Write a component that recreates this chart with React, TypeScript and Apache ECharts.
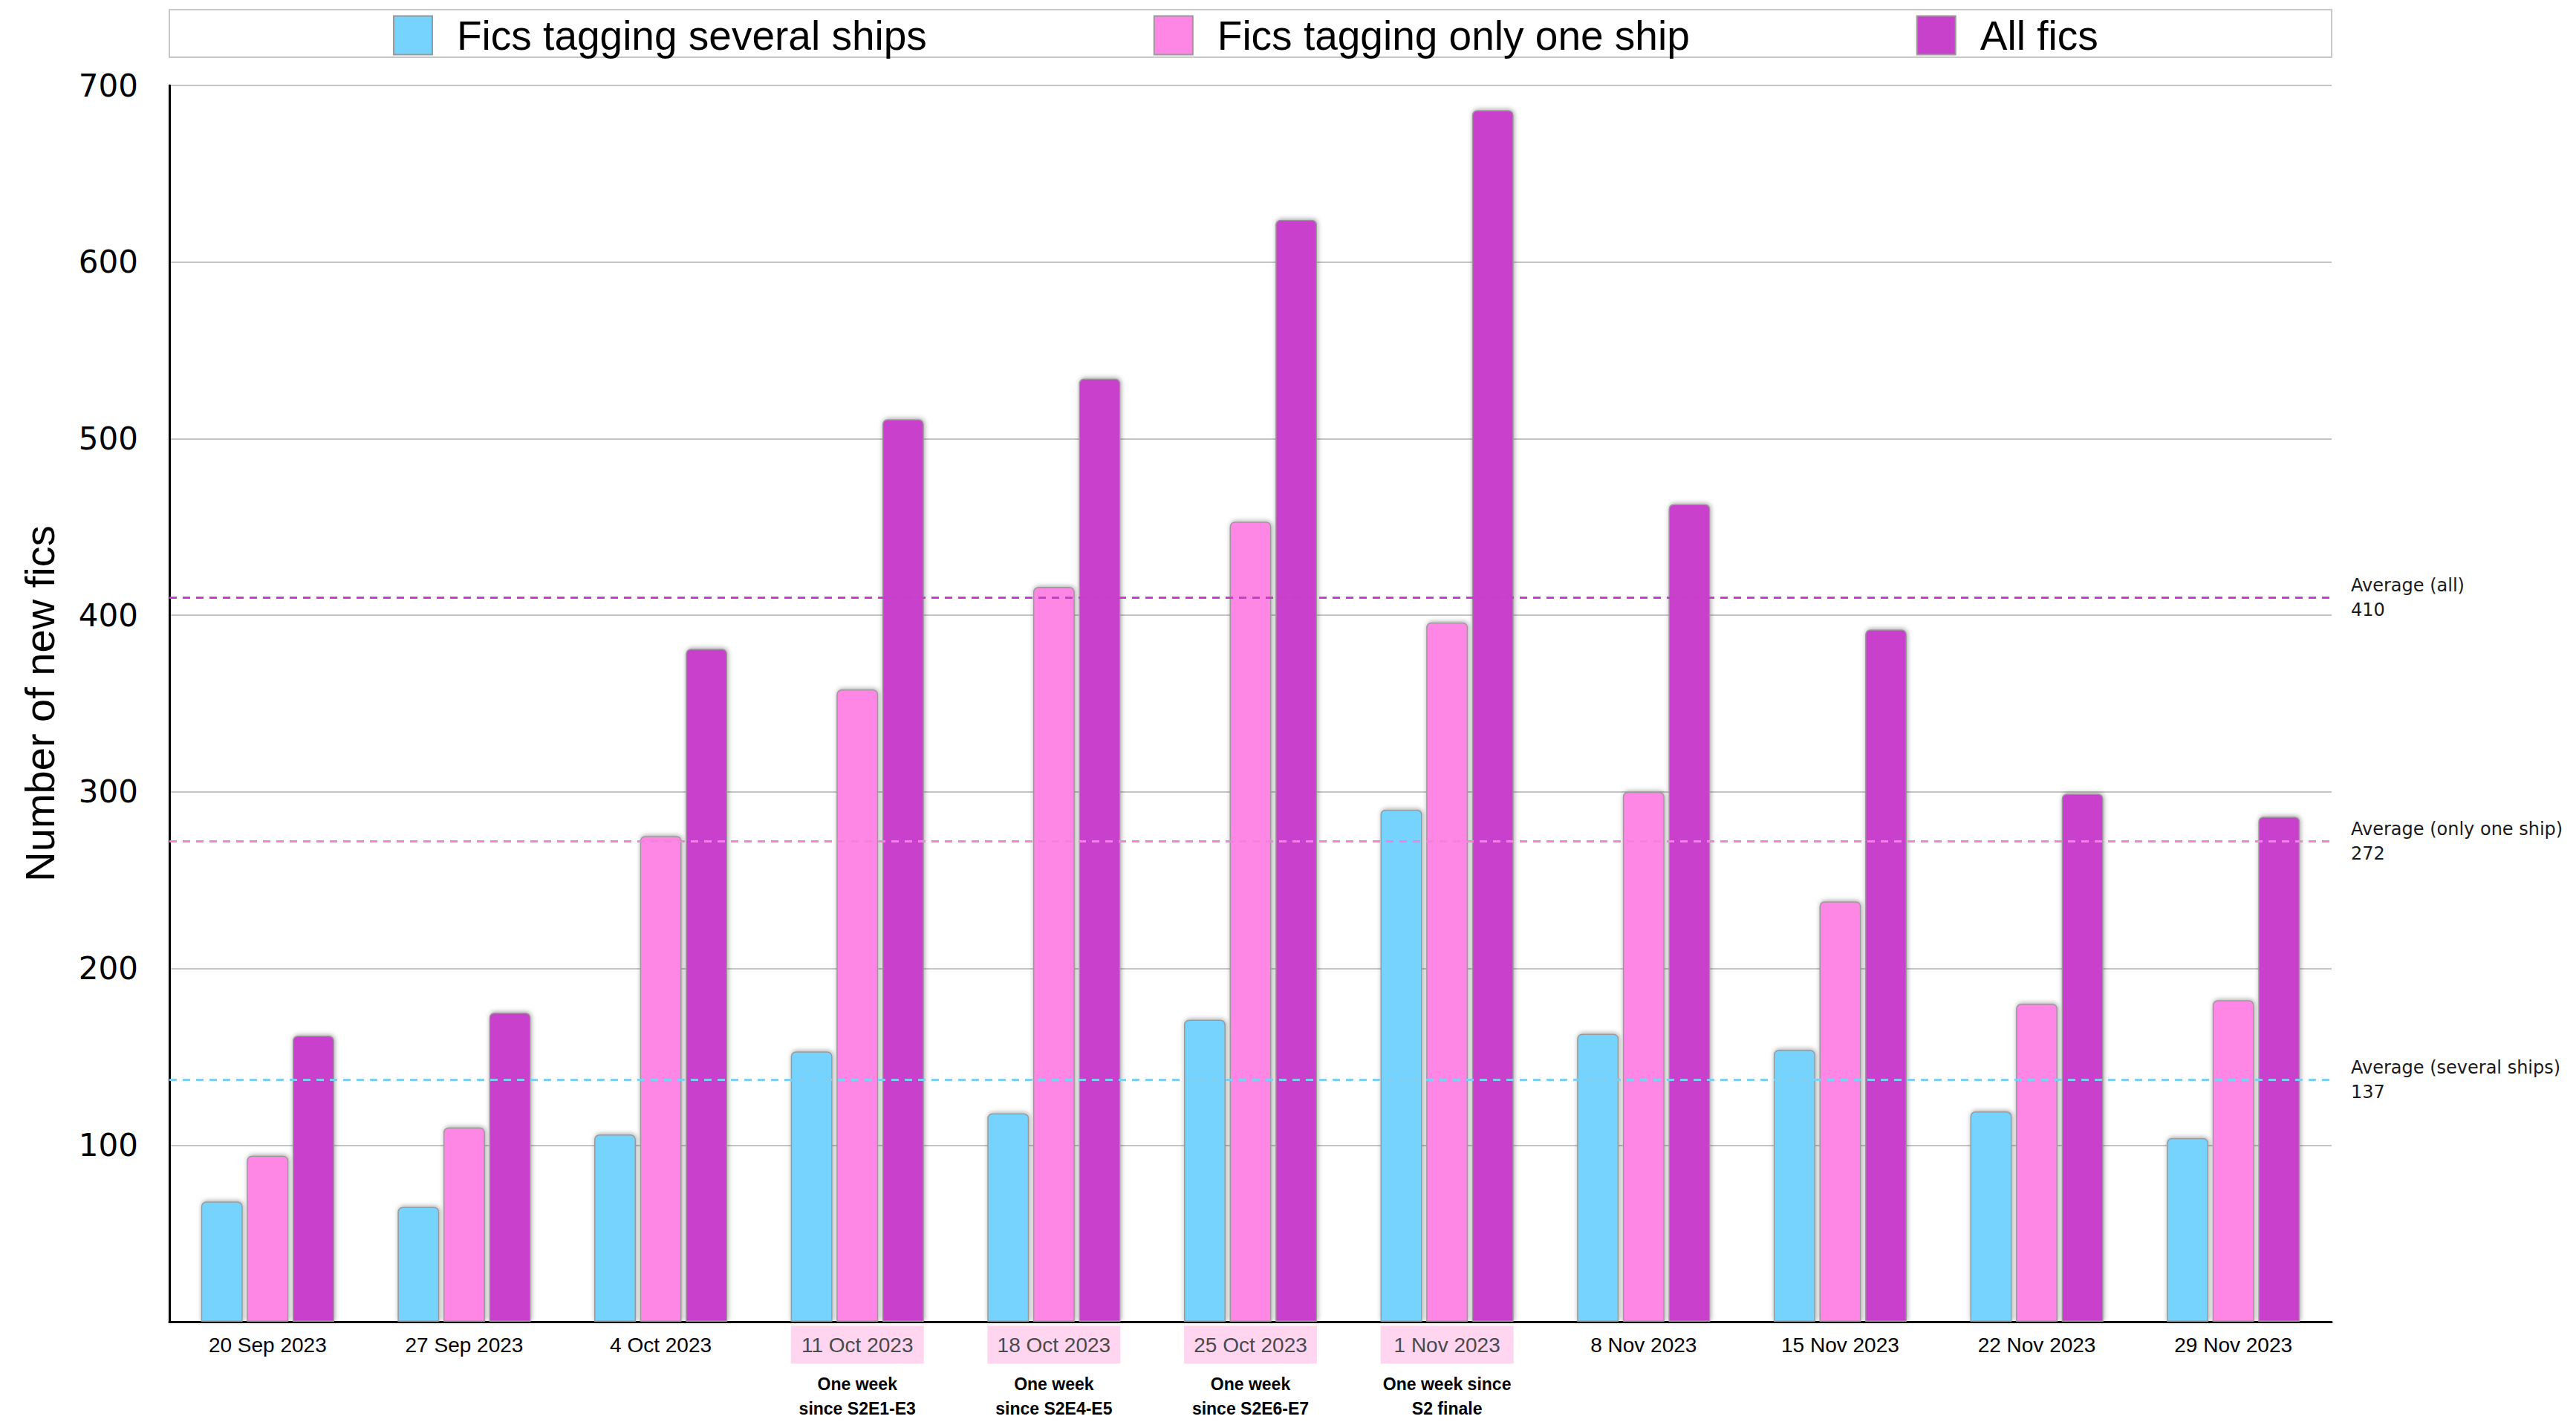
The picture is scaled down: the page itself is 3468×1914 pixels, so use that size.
import React, { useEffect, useRef } from "react";
import * as echarts from "echarts";

const categories = [
  "20 Sep 2023",
  "27 Sep 2023",
  "4 Oct 2023",
  "11 Oct 2023",
  "18 Oct 2023",
  "25 Oct 2023",
  "1 Nov 2023",
  "8 Nov 2023",
  "15 Nov 2023",
  "22 Nov 2023",
  "29 Nov 2023",
];

const notes = [
  "",
  "",
  "",
  "One week\nsince S2E1-E3",
  "One week\nsince S2E4-E5",
  "One week\nsince S2E6-E7",
  "One week since\nS2 finale",
  "",
  "",
  "",
  "",
];

const severalShips = [68, 65, 106, 153, 118, 171, 290, 163, 154, 119, 104];
const oneShip = [94, 110, 275, 358, 416, 453, 396, 300, 238, 180, 182];
const allFics = [162, 175, 381, 511, 534, 624, 686, 463, 392, 299, 286];

const seriesNames = ["Fics tagging several ships", "Fics tagging only one ship", "All fics"];
const seriesColors = ["#75d3fd", "#fe86e5", "#c841cb"];
const avgLineColors = ["#7fcff3", "#f084dc", "#c63fc9"];
const averageValues = [137, 272, 410];
const averageLabels = ["Average (several ships)", "Average (only one ship)", "Average (all)"];

const yTicks = { min: 0, max: 700, interval: 100 };

export default function App() {
  const ref = useRef<HTMLDivElement>(null);

  useEffect(() => {
    if (!ref.current) return;
    const chart = echarts.init(ref.current, null, { renderer: "svg" });

    const dataSets = [severalShips, oneShip, allFics];

    const series = dataSets.map((d, i) => ({
      name: seriesNames[i],
      type: "bar",
      data: d,
      barWidth: 56,
      barGap: "10%",
      itemStyle: {
        color: seriesColors[i],
        borderColor: "#9a9a9a",
        borderWidth: 1.5,
        borderRadius: [6, 6, 0, 0],
        shadowBlur: 6,
        shadowColor: "rgba(0,0,0,0.35)",
        shadowOffsetX: 1,
        shadowOffsetY: -1,
      },
      markLine: {
        silent: true,
        symbol: "none",
        z: 10,
        data: [{ yAxis: averageValues[i] }],
        lineStyle: {
          color: avgLineColors[i],
          type: [10, 8],
          width: 3,
        },
        label: {
          show: true,
          position: "end",
          distance: 26,
          formatter: `${averageLabels[i]}\n${averageValues[i]}`,
          fontFamily: "DejaVu Sans",
          fontSize: 24,
          lineHeight: 33,
          color: "#1a1a1a",
        },
      },
    }));

    const option = {
      animation: false,
      backgroundColor: "#ffffff",
      graphic: [
        {
          type: "rect",
          z: -1,
          shape: { x: 228, y: 13, width: 2911, height: 64 },
          style: { fill: "#ffffff", stroke: "#c8c8c8", lineWidth: 2 },
        },
      ],
      legend: {
        left: 524,
        top: 15,
        itemWidth: 52,
        itemHeight: 52,
        itemGap: 305,
        icon: "rect",
        selectedMode: false,
        data: seriesNames,
        textStyle: {
          fontFamily: "Liberation Sans",
          fontSize: 55,
          color: "#000",
          padding: [0, 0, 0, 28],
        },
      },
      grid: {
        left: 228,
        right: 329,
        top: 115,
        bottom: 135,
        containLabel: false,
      },
      xAxis: {
        type: "category",
        data: categories,
        axisLine: { show: true, lineStyle: { color: "#000", width: 3 } },
        axisTick: { show: false },
        axisLabel: {
          interval: 0,
          margin: 17,
          verticalAlign: "top",
          formatter: (value: string, idx: number) => {
            const n = notes[idx];
            if (n) {
              const [l1, l2] = n.split("\n");
              return `{hl|${value}}\n{s1|${l1}}\n{s2|${l2}}`;
            }
            return `{n|${value}}`;
          },
          rich: {
            n: {
              fontFamily: "Liberation Sans",
              fontSize: 28,
              color: "#000",
              lineHeight: 28,
              padding: [12, 13, 11, 13],
            },
            hl: {
              fontFamily: "Liberation Sans",
              fontSize: 28,
              color: "#4a4a4a",
              lineHeight: 28,
              width: 153,
              align: "center",
              backgroundColor: "#ffd5ef",
              padding: [12, 13, 11, 13],
            },
            s1: {
              fontFamily: "Liberation Sans",
              fontWeight: "bold",
              fontSize: 23,
              color: "#000",
              lineHeight: 50,
              verticalAlign: "bottom",
            },
            s2: {
              fontFamily: "Liberation Sans",
              fontWeight: "bold",
              fontSize: 23,
              color: "#000",
              lineHeight: 44,
            },
          },
        },
      },
      yAxis: {
        type: "value",
        min: yTicks.min,
        max: yTicks.max,
        interval: yTicks.interval,
        name: "Number of new fics",
        nameLocation: "middle",
        nameGap: 147,
        nameTextStyle: {
          fontFamily: "Liberation Sans",
          fontSize: 56,
          color: "#000",
        },
        axisLine: { show: true, lineStyle: { color: "#000", width: 3 } },
        axisTick: { show: false },
        splitLine: { show: true, lineStyle: { color: "#c4c4c4", width: 2 } },
        axisLabel: {
          margin: 42,
          fontFamily: "DejaVu Sans",
          fontSize: 42,
          color: "#000",
          formatter: (v: number) => (v === 0 ? "" : String(v)),
        },
      },
      series,
    };

    chart.setOption(option as any);
    return () => chart.dispose();
  }, []);

  return (
    <div
      ref={ref}
      style={{ position: "fixed", left: 0, top: 0, width: 3468, height: 1914 }}
    />
  );
}
